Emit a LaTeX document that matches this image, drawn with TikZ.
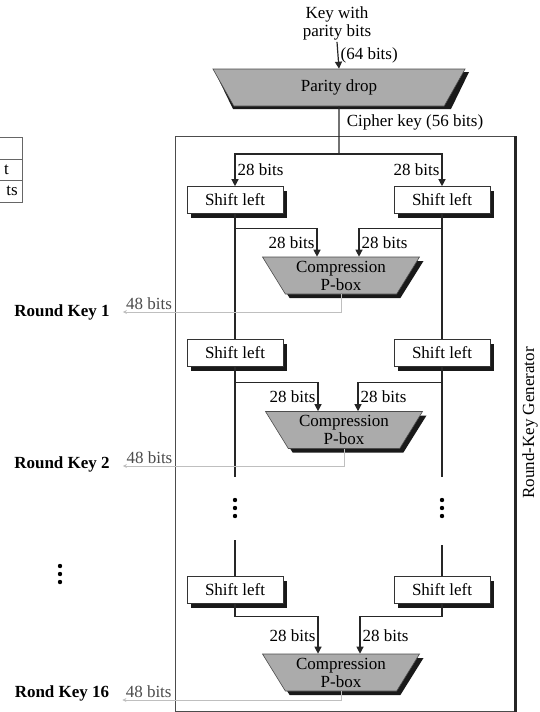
\documentclass[tikz,border=0pt]{standalone}
\usepackage{fontspec}
\setmainfont{Liberation Serif}
\usepackage{tikz}
\usetikzlibrary{shapes.geometric, arrows.meta, positioning, calc}
\newcommand{\diagfont}{\fontsize{17}{18}\selectfont}
\tikzstyle{frame} = [draw=black!70, line width=0.8pt]
\tikzstyle{frameedge} = [draw=black!85, line width=3pt]
\tikzstyle{shiftbox} = [rectangle, draw=black!80, line width=0.6pt, fill=white, minimum width=96pt, minimum height=27pt, inner sep=0pt]
\tikzstyle{pbox} = [trapezium, trapezium angle=58, shape border rotate=180, trapezium stretches=true, minimum width=157pt, minimum height=37pt, inner sep=0pt, align=center, draw=black!70, line width=0.6pt, fill=black!33]
\tikzstyle{dropbox} = [trapezium, trapezium angle=64, shape border rotate=180, trapezium stretches=true, minimum width=254pt, minimum height=37pt, inner sep=0pt, draw=black!70, line width=0.6pt, fill=black!33]
\tikzstyle{shadowfill} = [fill=black!90]
\tikzstyle{arrow} = [line width=1.2pt, -{Triangle[length=7pt, width=7pt]}, draw=black!85]
\tikzstyle{conn} = [line width=1.2pt, draw=black!85]
\tikzstyle{keyout} = [line width=0.7pt, -{Stealth[length=4pt, width=4pt]}, draw=black!25]
\tikzstyle{bits} = [inner sep=2pt]
\tikzstyle{roundkey} = [font=\diagfont\bfseries, inner sep=3pt]
\tikzstyle{dot} = [fill=black]

\begin{document}
\begin{tikzpicture}[x=1pt, y=-1pt, font=\diagfont]
    \useasboundingbox (0,0) rectangle (539,712);

    % cut-off table at the left edge
    \draw[black!60, line width=0.6pt] (0,137) -| (22,202) -- (0,202);
    \draw[black!60, line width=0.6pt] (0,159) -- (22,159) (0,180) -- (22,180);
    \node (tabB) [anchor=east, inner sep=1pt] at (10,170) {t};
    \node (tabC) [anchor=east, inner sep=1pt] at (19,191) {ts};

    % generator frame
    \draw[frame] (175,136) rectangle (514,711);
    \draw[frameedge] (515,136) -- (515,712);
    \node (genlbl) [rotate=90] at (530,423) {Round-Key Generator};

    % shadows, drawn first
    \fill[shadowfill] (215,72) -- (469,72) -- (451,109) -- (233,109) -- cycle;
    \fill[shadowfill] (191,190.5) rectangle (287,217.5);
    \fill[shadowfill] (398,190.5) rectangle (494,217.5);
    \fill[shadowfill] (191,343.5) rectangle (287,370.5);
    \fill[shadowfill] (398,343.5) rectangle (494,370.5);
    \fill[shadowfill] (191,580.5) rectangle (287,607.5);
    \fill[shadowfill] (398,580.5) rectangle (494,607.5);
    \fill[shadowfill] (266.5,261) -- (423.5,261) -- (400.4,298) -- (289.6,298) -- cycle;
    \fill[shadowfill] (269.5,415.5) -- (426.5,415.5) -- (403.4,452.5) -- (292.6,452.5) -- cycle;
    \fill[shadowfill] (266.5,658) -- (423.5,658) -- (400.4,695) -- (289.6,695) -- cycle;

    % key input
    \node (keyin) [align=center, inner sep=2pt] at (337,23) {Key with\\parity bits};
    \node (parity) [dropbox] at (339,87.5) {Parity drop};
    \draw [arrow] (keyin.south) -- node[right, bits] {(64 bits)} (parity.north);
    \coordinate (split) at (339,154);
    \node (ckey) at (415,122) {Cipher key (56 bits)};

    % shift left boxes
    \node (sl1L) [shiftbox] at (235,200) {Shift left};
    \node (sl1R) [shiftbox] at (442,200) {Shift left};
    \node (sl2L) [shiftbox] at (235,353) {Shift left};
    \node (sl2R) [shiftbox] at (442,353) {Shift left};
    \node (sl3L) [shiftbox] at (235,590) {Shift left};
    \node (sl3R) [shiftbox] at (442,590) {Shift left};

    % compression boxes
    \node (pbox1) [pbox] at (341,275.5) {Compression\\P-box};
    \node (pbox2) [pbox] at (344,430) {Compression\\P-box};
    \node (pbox3) [pbox] at (341,672.5) {Compression\\P-box};

    % round keys
    \node (rk1) [roundkey] at (62,312) {Round Key 1};
    \node (rk2) [roundkey] at (62,464) {Round Key 2};
    \node (rk16) [roundkey] at (62,693) {Rond Key 16};

    \draw [conn] (parity.south) -- (split);
    \draw [arrow] (split) -| node[pos=0.75, right, bits] {28 bits} (sl1L.north);
    \draw [arrow] (split) -| node[pos=0.75, left, bits] {28 bits} (sl1R.north);

    % round 1
    \draw [conn] (sl1L.south) -- (sl2L.north);
    \draw [conn] (sl1R.south) -- (sl2R.north);
    \draw [arrow] ($(sl1L.south)+(0,15)$) -| node[pos=0.75, left, bits] {28 bits} ([xshift=-24pt]pbox1.north);
    \draw [arrow] ($(sl1R.south)+(0,15)$) -| node[pos=0.75, right, bits] {28 bits} ([xshift=18pt]pbox1.north);
    \draw [keyout] (pbox1.south) |- node[pos=0.94, above, black!70, bits] {48 bits} ([xshift=10pt]rk1.east);

    % round 2
    \draw [conn] (sl2L.south) -- ++(0,110);
    \draw [conn] (sl2R.south) -- ++(0,110);
    \draw [arrow] ($(sl2L.south)+(0,16)$) -| node[pos=0.75, left, bits] {28 bits} ([xshift=-26pt]pbox2.north);
    \draw [arrow] ($(sl2R.south)+(0,16)$) -| node[pos=0.75, right, bits] {28 bits} ([xshift=14pt]pbox2.north);
    \draw [keyout] (pbox2.south) |- node[pos=0.94, above, black!70, bits] {48 bits} ([xshift=10pt, yshift=-2pt]rk2.east);

    % dots
    \foreach \dy in {0,8,16} {
        \fill[dot] (235,500+\dy) circle (2.2pt);
        \fill[dot] (442,500+\dy) circle (2.2pt);
        \fill[dot] (60,566+\dy) circle (2.2pt);
    }

    % round 16
    \draw [conn] (sl3L.north) -- ++(0,-36);
    \draw [conn] (sl3R.north) -- ++(0,-31);
    \draw [arrow] (sl3L.south) |- ++(0,13) -| node[pos=0.75, left, bits] {28 bits} ([xshift=-23pt]pbox3.north);
    \draw [arrow] (sl3R.south) |- ++(0,13) -| node[pos=0.75, right, bits] {28 bits} ([xshift=19pt]pbox3.north);
    \draw [keyout] (pbox3.south) |- node[pos=0.94, above, black!70, bits] {48 bits} ([xshift=10pt, yshift=-7pt]rk16.east);
\end{tikzpicture}
\end{document}
